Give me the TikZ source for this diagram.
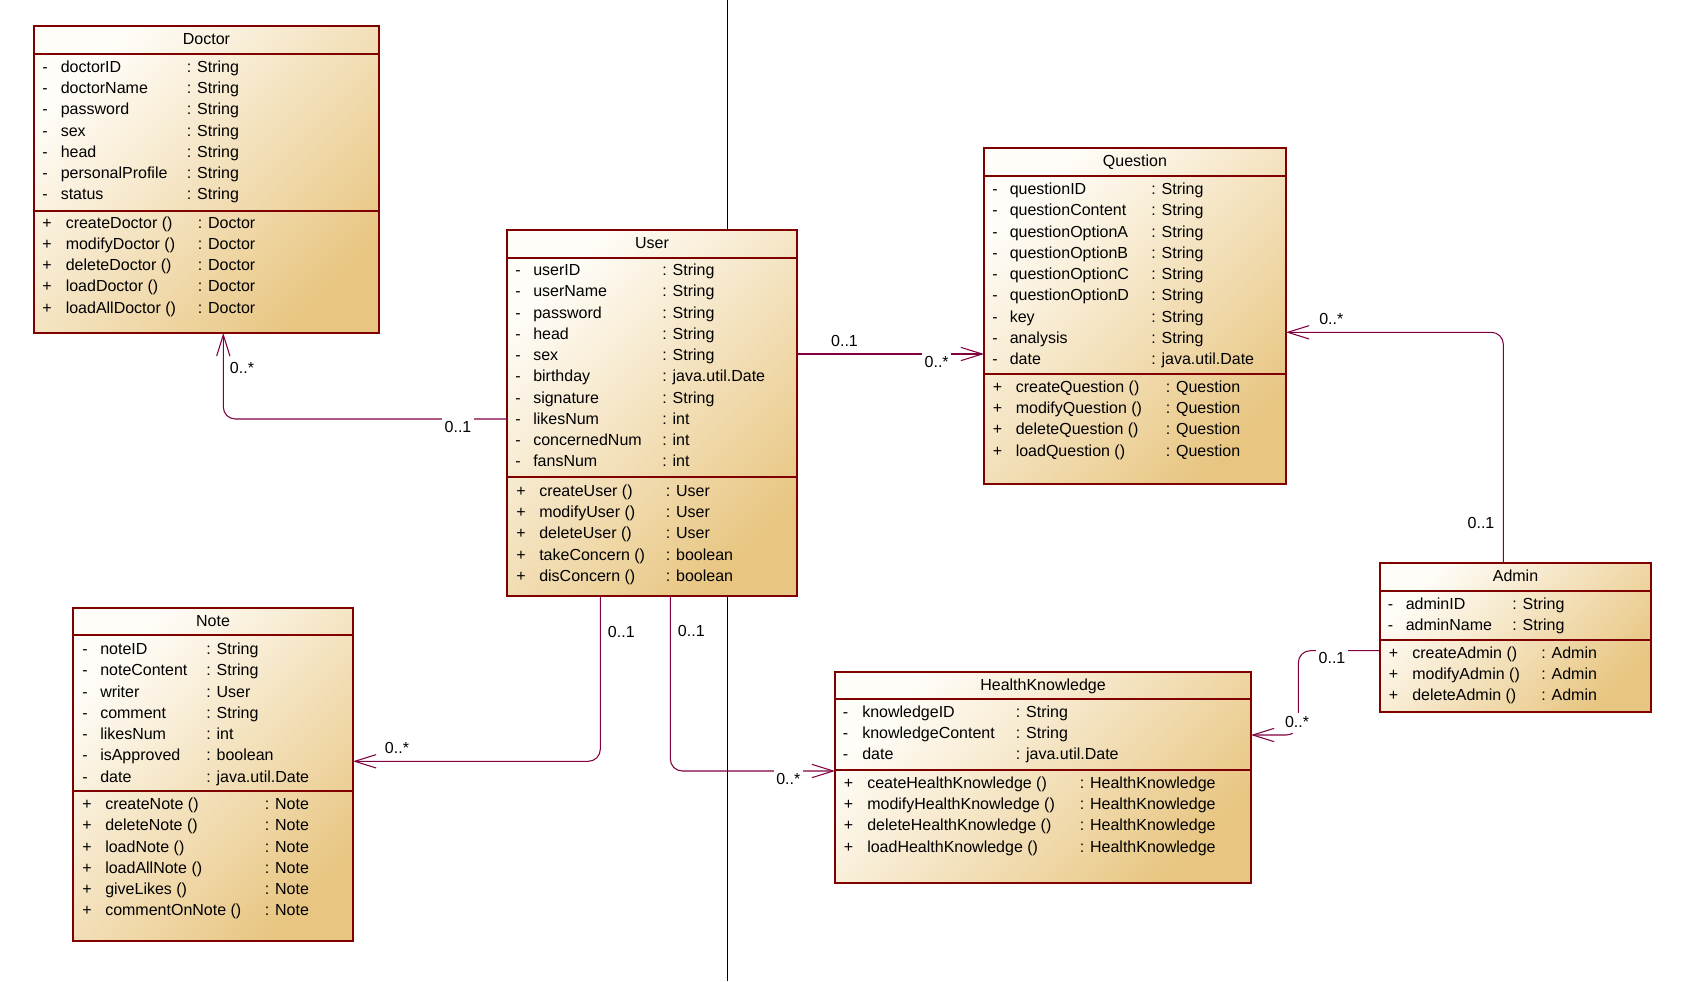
\documentclass[tikz,border=0pt]{standalone}
\usepackage{fontspec}
\setmainfont{Liberation Sans}
\usetikzlibrary{arrows.meta, calc, positioning}
\definecolor{umlborder}{RGB}{128,0,0}
\definecolor{umlline}{RGB}{128,0,64}
\definecolor{umllight}{RGB}{255,253,248}
\definecolor{umldark}{RGB}{232,198,130}
\newcommand\px{0.75pt}

\tikzset{
  classbox/.style={rectangle, draw=umlborder, line width=0.8pt, top color=umllight, bottom color=umldark,
                   shading angle=45, inner sep=0pt, outer sep=0pt, anchor=north west},
  classtitle/.style={anchor=base, inner sep=0pt},
  member/.style={anchor=base west, inner sep=0pt},
  classsep/.style={draw=umlborder, line width=0.8pt},
  assoc/.style={draw=umlline, line width=0.8pt, rounded corners=9pt, -{Straight Barb[length=16pt, width=10pt]}},
  mult/.style={fill=white, inner sep=2pt, text height=9pt, text depth=2pt},
}

% rows of a class: prefix, sign, x sign, x name, x type, first baseline, name/type list
\newcommand\classmembers[7]{%
  \foreach \mname/\mtype [count=\i] in {#7}{
    \node[member] (#1s\i) at (#3, {#6+21.25*(\i-1)}) {#2};
    \node[member] (#1n\i) at (#4, {#6+21.25*(\i-1)}) {\mname};
    \node[member] (#1t\i) at (#5, {#6+21.25*(\i-1)}) {: \mtype};
  }}

\begin{document}
\begin{tikzpicture}[x=0.75pt, y=-0.75pt, font=\fontsize{12}{14}\selectfont]
    \useasboundingbox (0,0) rectangle (1687,981);
    \draw[black, line width=0.75pt] (727.3,0) -- (727.3,981);

    % Doctor
    \node[classbox, minimum width=345*\px, minimum height=307*\px] (doctor) at (34,26) {};
    \node[classtitle] (doctor-title) at ($(doctor.north)+(0,18.3)$) {Doctor};
    \draw[classsep] ($(doctor.north west)+(0,28)$) -- ($(doctor.north east)+(0,28)$);
    \draw[classsep] ($(doctor.north west)+(0,185)$) -- ($(doctor.north east)+(0,185)$);
    \classmembers{da}{-}{42}{60.5}{186.5}{72.3}{doctorID/String, doctorName/String, password/String, sex/String, head/String, personalProfile/String, status/String}
    \classmembers{dm}{+}{42}{65.5}{197.5}{228}{createDoctor ()/Doctor, modifyDoctor ()/Doctor, deleteDoctor ()/Doctor, loadDoctor ()/Doctor, loadAllDoctor ()/Doctor}

    % User
    \node[classbox, minimum width=290*\px, minimum height=366*\px] (user) at (507,230) {};
    \node[classtitle] (user-title) at ($(user.north)+(0,18.3)$) {User};
    \draw[classsep] ($(user.north west)+(0,28)$) -- ($(user.north east)+(0,28)$);
    \draw[classsep] ($(user.north west)+(0,247)$) -- ($(user.north east)+(0,247)$);
    \classmembers{ua}{-}{515}{533}{662}{275.7}{userID/String, userName/String, password/String, head/String, sex/String, birthday/java.util.Date, signature/String, likesNum/int, concernedNum/int, fansNum/int}
    \classmembers{um}{+}{516}{539}{665.5}{496.4}{createUser ()/User, modifyUser ()/User, deleteUser ()/User, takeConcern ()/boolean, disConcern ()/boolean}

    % Question
    \node[classbox, minimum width=302*\px, minimum height=336*\px] (question) at (984,148) {};
    \node[classtitle] (question-title) at ($(question.north)+(0,18.3)$) {Question};
    \draw[classsep] ($(question.north west)+(0,28)$) -- ($(question.north east)+(0,28)$);
    \draw[classsep] ($(question.north west)+(0,226)$) -- ($(question.north east)+(0,226)$);
    \classmembers{qa}{-}{992}{1009.5}{1151}{194.7}{questionID/String, questionContent/String, questionOptionA/String, questionOptionB/String, questionOptionC/String, questionOptionD/String, key/String, analysis/String, date/java.util.Date}
    \classmembers{qm}{+}{992.5}{1015.5}{1165.5}{392.4}{createQuestion ()/Question, modifyQuestion ()/Question, deleteQuestion ()/Question, loadQuestion ()/Question}

    % Admin
    \node[classbox, minimum width=271*\px, minimum height=149*\px] (admin) at (1380,563) {};
    \node[classtitle] (admin-title) at ($(admin.north)+(0,18.3)$) {Admin};
    \draw[classsep] ($(admin.north west)+(0,28)$) -- ($(admin.north east)+(0,28)$);
    \draw[classsep] ($(admin.north west)+(0,77)$) -- ($(admin.north east)+(0,77)$);
    \classmembers{aa}{-}{1387.5}{1405.5}{1512}{609.7}{adminID/String, adminName/String}
    \classmembers{am}{+}{1388.5}{1412}{1541}{658.4}{createAdmin ()/Admin, modifyAdmin ()/Admin, deleteAdmin ()/Admin}

    % HealthKnowledge
    \node[classbox, minimum width=416*\px, minimum height=211*\px] (health) at (835,672) {};
    \node[classtitle] (health-title) at ($(health.north)+(0,18.3)$) {HealthKnowledge};
    \draw[classsep] ($(health.north west)+(0,27)$) -- ($(health.north east)+(0,27)$);
    \draw[classsep] ($(health.north west)+(0,98)$) -- ($(health.north east)+(0,98)$);
    \classmembers{ha}{-}{842.5}{862}{1015.5}{717.4}{knowledgeID/String, knowledgeContent/String, date/java.util.Date}
    \classmembers{hm}{+}{843.5}{867}{1079.5}{788.4}{ceateHealthKnowledge ()/HealthKnowledge, modifyHealthKnowledge ()/HealthKnowledge, deleteHealthKnowledge ()/HealthKnowledge, loadHealthKnowledge ()/HealthKnowledge}

    % Note
    \node[classbox, minimum width=280*\px, minimum height=333*\px] (note) at (73,608) {};
    \node[classtitle] (note-title) at ($(note.north)+(0,18.3)$) {Note};
    \draw[classsep] ($(note.north west)+(0,27)$) -- ($(note.north east)+(0,27)$);
    \draw[classsep] ($(note.north west)+(0,183)$) -- ($(note.north east)+(0,183)$);
    \classmembers{na}{-}{82}{100}{206}{654.7}{noteID/String, noteContent/String, writer/User, comment/String, likesNum/int, isApproved/boolean, date/java.util.Date}
    \classmembers{nm}{+}{82}{105}{264.5}{809.7}{createNote ()/Note, deleteNote ()/Note, loadNote ()/Note, loadAllNote ()/Note, giveLikes ()/Note, commentOnNote ()/Note}

    % associations
    \draw[assoc] ($(user.north west)+(0,189)$) -| ($(doctor.south west)+(189.3,0)$);
    \draw[assoc] ($(user.north east)+(0,124)$) -- ($(question.north west)+(0,206)$);
    \draw[assoc] ($(user.south west)+(93.3,0)$) |- ($(note.north east)+(0,153.3)$);
    \draw[assoc] ($(user.south west)+(163.3,0)$) |- ($(health.north west)+(0,99)$);
    \draw[assoc] ($(admin.north west)+(123.3,0)$) |- ($(question.north east)+(0,184.3)$);
    \draw[assoc] ($(admin.north west)+(0,87.7)$) -- ++(-81.7,0) |- ($(health.north east)+(0,63)$);

    \node[mult] (m1) at (458,428) {0..1};
    \node[mult] (m2) at (242,369) {0..*};
    \node[mult] (m3) at (844.5,341.7) {0..1};
    \node[mult] (m4) at (936.7,362.7) {0..*};
    \node[mult] (m5) at (621.3,632.7) {0..1};
    \node[mult] (m6) at (397,749) {0..*};
    \node[mult] (m7) at (691.3,632) {0..1};
    \node[mult] (m8) at (788.3,780) {0..*};
    \node[mult] (m9) at (1331.3,320) {0..*};
    \node[mult] (m10) at (1481,524) {0..1};
    \node[mult] (m11) at (1332,659.3) {0..1};
    \node[mult] (m12) at (1297,723.3) {0..*};
\end{tikzpicture}
\end{document}
